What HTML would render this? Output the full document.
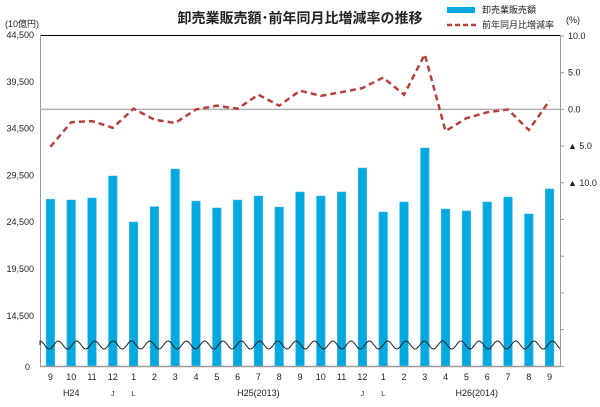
<!DOCTYPE html>
<html><head><meta charset="utf-8"><style>
body{margin:0;background:#fff}
svg text{font-family:"Liberation Sans","Noto Sans CJK JP",sans-serif;fill:#222}
</style></head><body>
<svg width="600" height="402" viewBox="0 0 600 402" id="chart">
<text x="300" y="23" text-anchor="middle" font-size="14" font-weight="bold">卸売業販売額･前年同月比増減率の推移</text>
<text x="5" y="27" font-size="9">(10億円)</text>
<text x="566" y="23" font-size="9">(%)</text>
<g>
<rect x="447" y="7" width="28" height="6" fill="#00a8e0"/>
<text x="482" y="13" font-size="9">卸売業販売額</text>
<line x1="447" y1="25" x2="476" y2="25" stroke="#b5413f" stroke-width="2.5" stroke-dasharray="5,3"/>
<text x="482" y="28" font-size="9">前年同月比増減率</text>
</g>
<line x1="40" y1="35.5" x2="560" y2="35.5" stroke="#000" stroke-width="1"/>
<line x1="40.5" y1="35" x2="40.5" y2="366" stroke="#999"/>
<line x1="560.5" y1="35" x2="560.5" y2="366" stroke="#999"/>
<g id="bars"></g>
<g id="axes"></g>
<path id="wave" fill="none" stroke="#222" stroke-width="1"/>
<line x1="40" y1="366.5" x2="560" y2="366.5" stroke="#999" stroke-width="1.5"/>
<path id="rateLine" fill="none" stroke="#b5413f" stroke-width="2.5" stroke-dasharray="6,4"/>
<g id="xlabels"></g>
</svg>
<script>
const months=["9","10","11","12","1","2","3","4","5","6","7","8","9","10","11","12","1","2","3","4","5","6","7","8","9"];
const sales=[26950,26870,27090,29440,24520,26160,30180,26760,26020,26870,27300,26120,27730,27300,27730,30290,25590,26660,32430,25910,25700,26660,27190,25380,28050];
const rates=[-5.1,-1.75,-1.6,-2.5,0.1,-1.4,-1.85,0,0.5,0.1,2.0,0.5,2.55,1.85,2.35,2.9,4.35,2.0,7.5,-2.95,-1.2,-0.4,0,-2.8,1.2];
const leftTicks=[44500,39500,34500,29500,24500,19500,14500];
const leftTickLabels=["44,500","39,500","34,500","29,500","24,500","19,500","14,500"];
const rightTicks=[10,5,0,-5,-10,-15,-20,-25,-30,-35];
const rightTickLabels=["10.0","5.0","0.0","▲ 5.0","▲ 10.0","","","","",""];
const eraLabels=[["H24",1],["J",3],["L",4],["H25(2013)",10],["J",15],["L",16],["H26(2014)",20.5]];
const NS="http://www.w3.org/2000/svg";
const L=40,R=560,B=366,band=(R-L)/months.length;
const xC=i=>L+band*(i+0.5);
const yS=v=>35+(44500-v)/5000*46.8;
const yR=v=>36+(10-v)/5*36.7;
function mk(t,a,p){const e=document.createElementNS(NS,t);for(const k in a)e.setAttribute(k,a[k]);(p||document.getElementById('chart')).appendChild(e);return e;}
const bars=document.getElementById('bars'),axes=document.getElementById('axes'),xl=document.getElementById('xlabels');
sales.forEach((v,i)=>{const y=yS(v);
 const r=mk('rect',{x:xC(i)-4.3,y:y,width:8.6,height:B-y,fill:'#00a8e0',stroke:'#3fb7e6','stroke-width':0.5},bars);
 
 });
leftTicks.forEach((v,i)=>{const t=mk('text',{x:34,y:yS(v)+3,'text-anchor':'end','font-size':9},axes);t.textContent=leftTickLabels[i];
 
 });
const z=mk('text',{x:30,y:370,'text-anchor':'end','font-size':9},axes);z.textContent="0";


rightTicks.forEach((v,i)=>{const y=yR(v);
 const tk=mk('line',{x1:560,x2:564,y1:y,y2:y,stroke:'#999'},axes);
 
 
 if(rightTickLabels[i]){const t=mk('text',{x:568,y:y+3,'font-size':9},axes);t.textContent=rightTickLabels[i];
 
 }});
const zl=mk('line',{x1:40,x2:560,y1:yR(0),y2:yR(0),stroke:'#b0b0b0','stroke-width':1.5},axes);


document.getElementById('rateLine').setAttribute('d',rates.map((v,i)=>(i?'L':'M')+xC(i).toFixed(1)+' '+yR(v).toFixed(1)).join(' '));
let w='M40 345';for(let x=40;x<=560;x+=1){w+=' L'+x+' '+(345-4*Math.sin((x-40)/18.3*2*Math.PI+Math.PI/2)).toFixed(2);}
document.getElementById('wave').setAttribute('d',w);
months.forEach((m,i)=>{const t=mk('text',{x:xC(i),y:380,'text-anchor':'middle','font-size':9},xl);t.textContent=m;
 
 });
eraLabels.forEach(([s,i])=>{const t=mk('text',{x:xC(i),y:396,'text-anchor':'middle','font-size':s.length>1?9:7},xl);t.textContent=s;
 
 });
</script>
</body></html>
